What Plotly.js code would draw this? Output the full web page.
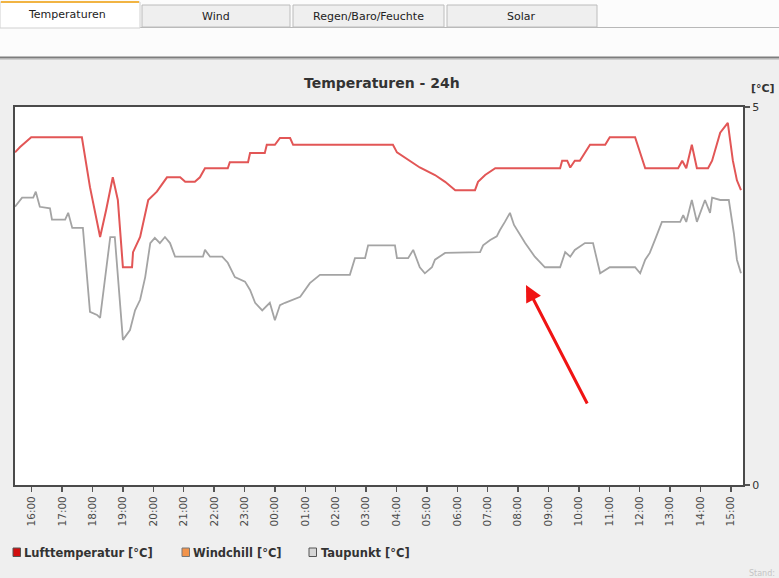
<!DOCTYPE html>
<html>
<head>
<meta charset="utf-8">
<script src="https://cdn.plot.ly/plotly-3.0.1.min.js"></script>
<style>
  html, body { margin: 0; padding: 0; background: #efefef; }
  #chart { width: 779px; height: 578px; }
</style>
</head>
<body>
<div id="chart"></div>
<script>
// ---- data ----
const tickLabels = ["16:00","17:00","18:00","19:00","20:00","21:00","22:00","23:00","00:00","01:00","02:00","03:00",
                    "04:00","05:00","06:00","07:00","08:00","09:00","10:00","11:00","12:00","13:00","14:00","15:00"];

const seriesNames = ["Lufttemperatur [°C]", "Windchill [°C]", "Taupunkt [°C]"];

const luftTimes = ["15:27","15:37","15:59","17:39","17:55","18:15","18:27","18:40","18:50","19:00","19:18","19:20",
  "19:34","19:50","20:07","20:27","20:53","21:03","21:22","21:32","21:42","22:27","22:31","23:07","23:11","23:40",
  "23:44","00:00","00:10","00:30","00:36","03:53","04:01","04:27","04:46","05:16","05:36","05:56","06:35","06:41",
  "06:55","07:15","09:23","09:27","09:37","09:43","09:52","10:02","10:12","10:22","10:52","11:01","11:51","12:11",
  "13:16","13:24","13:32","13:43","13:53","14:15","14:23","14:39","14:54","15:04","15:12","15:20"];
const luftValues = [4.40,4.47,4.60,4.60,3.94,3.28,3.64,4.07,3.77,2.88,2.88,3.08,
  3.28,3.77,3.88,4.07,4.07,4.01,4.01,4.07,4.19,4.19,4.27,4.27,4.39,4.39,
  4.50,4.50,4.59,4.59,4.50,4.50,4.40,4.29,4.20,4.10,4.01,3.90,3.90,4.01,
  4.10,4.19,4.19,4.29,4.29,4.20,4.29,4.29,4.39,4.50,4.50,4.60,4.60,4.19,
  4.19,4.29,4.19,4.50,4.19,4.19,4.29,4.66,4.79,4.29,4.03,3.90];

const windchillTimes = [];
const windchillValues = [];

const taupunktTimes = ["15:27","15:41","16:03","16:08","16:16","16:36","16:40","17:06","17:12","17:20","17:41","17:55",
  "18:09","18:15","18:35","18:44","19:00","19:14","19:24","19:34","19:44","19:54","20:03","20:13","20:23","20:33",
  "20:43","21:38","21:42","21:52","22:16","22:27","22:41","23:01","23:11","23:21","23:35","23:50","00:00","00:10",
  "00:20","00:50","01:09","01:29","02:28","02:38","02:58","03:04","03:57","04:01","04:23","04:33","04:46","04:56",
  "05:10","05:16","05:36","06:45","06:51","07:05","07:18","07:24","07:34","07:44","07:52","08:04","08:14","08:33",
  "08:53","09:23","09:33","09:43","09:52","10:12","10:28","10:42","11:01","11:51","12:01","12:11","12:20","12:30",
  "12:44","13:20","13:26","13:32","13:43","13:53","14:09","14:19","14:23","14:39","14:56","15:06","15:12","15:20"];
const taupunktValues = [3.68,3.80,3.80,3.88,3.68,3.66,3.51,3.51,3.60,3.40,3.40,2.29,
  2.25,2.21,3.28,3.28,1.92,2.05,2.31,2.45,2.75,3.20,3.27,3.20,3.28,3.20,
  3.02,3.02,3.11,3.02,3.02,2.94,2.75,2.69,2.58,2.41,2.31,2.41,2.18,2.38,
  2.41,2.49,2.67,2.78,2.78,3.00,3.00,3.17,3.17,3.00,3.00,3.11,2.88,2.80,
  2.88,2.98,3.07,3.08,3.17,3.24,3.29,3.37,3.48,3.60,3.44,3.31,3.20,3.02,
  2.88,2.88,3.08,3.02,3.11,3.20,3.20,2.80,2.88,2.88,2.80,2.98,3.07,3.24,
  3.48,3.48,3.57,3.48,3.77,3.48,3.77,3.60,3.80,3.77,3.77,3.33,2.98,2.80];

const yTicks = [0, 5];
const xRangeLabels = ["15:27", "15:24"];

// ---- helpers ----
// times at/after 15:25 belong to the first day, earlier ones to the next day
function toDate(hhmm, isEnd) {
  const day = (hhmm >= "15:25" && !isEnd) ? "2024-01-01" : "2024-01-02";
  return day + " " + hhmm;
}
const toDates = arr => arr.map(t => toDate(t, false));
const tickDates = tickLabels.map(t => toDate(t, false));

// plot area in pixels: left 15, right 743, top 107, bottom 485
const L = 15, R = 743, T = 107, B = 485;
const PX = px => (px - L) / (R - L);
const PY = py => (B - py) / (B - T);

const FONT = "DejaVu Sans, Verdana, sans-serif";

const traces = [
  { x: toDates(windchillTimes), y: windchillValues, name: seriesNames[1], mode: "lines",
    line: { color: "#f08a3c", width: 2 }, showlegend: false, hoverinfo: "skip" },
  { x: toDates(taupunktTimes), y: taupunktValues, name: seriesNames[2], mode: "lines",
    line: { color: "#a4a4a4", width: 1.8 }, showlegend: false },
  { x: toDates(luftTimes), y: luftValues, name: seriesNames[0], mode: "lines",
    line: { color: "#e25656", width: 2 }, showlegend: false }
];

const shapes = [
  // white top band
  { type: "rect", xref: "paper", yref: "paper", x0: PX(-5), x1: PX(790), y0: PY(57), y1: PY(-5),
    fillcolor: "#fcfcfc", line: { width: 0 }, layer: "below" },
  // divider
  { type: "line", xref: "paper", yref: "paper", x0: PX(0), x1: PX(779), y0: PY(57.5), y1: PY(57.5),
    line: { color: "#7d7d7d", width: 2 } },
  { type: "line", xref: "paper", yref: "paper", x0: PX(0), x1: PX(779), y0: PY(59.5), y1: PY(59.5),
    line: { color: "#cfcfcf", width: 1 } },
  // tab base line
  { type: "line", xref: "paper", yref: "paper", x0: PX(140), x1: PX(779), y0: PY(27.5), y1: PY(27.5),
    line: { color: "#b8b8b8", width: 1 } },
  // inactive tabs
  { type: "rect", xref: "paper", yref: "paper", x0: PX(142), x1: PX(290), y0: PY(27), y1: PY(5),
    fillcolor: "#efefef", line: { color: "#bcbcbc", width: 1 } },
  { type: "rect", xref: "paper", yref: "paper", x0: PX(293), x1: PX(444), y0: PY(27), y1: PY(5),
    fillcolor: "#efefef", line: { color: "#bcbcbc", width: 1 } },
  { type: "rect", xref: "paper", yref: "paper", x0: PX(447), x1: PX(597), y0: PY(27), y1: PY(5),
    fillcolor: "#efefef", line: { color: "#bcbcbc", width: 1 } },
  // active tab
  { type: "rect", xref: "paper", yref: "paper", x0: PX(0), x1: PX(140), y0: PY(28), y1: PY(2),
    fillcolor: "#ffffff", line: { color: "#d0d0d0", width: 1 } },
  { type: "line", xref: "paper", yref: "paper", x0: PX(1), x1: PX(139), y0: PY(2), y1: PY(2),
    line: { color: "#f1b443", width: 2 } },
  // legend squares
  { type: "rect", xref: "paper", yref: "paper", x0: PX(13), x1: PX(20.5), y0: PY(556.5), y1: PY(548),
    fillcolor: "#d10f0f", line: { color: "#555", width: 1 } },
  { type: "rect", xref: "paper", yref: "paper", x0: PX(182), x1: PX(189.5), y0: PY(556.5), y1: PY(548),
    fillcolor: "#f2934a", line: { color: "#777", width: 1 } },
  { type: "rect", xref: "paper", yref: "paper", x0: PX(309), x1: PX(316.5), y0: PY(556.5), y1: PY(548),
    fillcolor: "#d6d6d6", line: { color: "#555", width: 1 } }
];

const ann = (px, py, text, size, color, xanchor) => ({
  xref: "paper", yref: "paper", x: PX(px), y: PY(py), text: text, showarrow: false,
  xanchor: xanchor || "center", yanchor: "middle", font: { family: FONT, size: size, color: color }
});

const annotations = [
  ann(67, 14, "Temperaturen", 11, "#222"),
  ann(216, 17, "Wind", 11, "#222"),
  ann(368, 17, "Regen/Baro/Feuchte", 11, "#222"),
  ann(521, 17, "Solar", 11, "#222"),
  ann(382, 83, "<b>Temperaturen - 24h</b>", 14, "#333"),
  ann(763, 89, "<b>[°C]</b>", 11, "#333"),
  ann(22, 552.5, "<b>" + seriesNames[0] + "</b>", 11.5, "#333", "left"),
  ann(191, 552.5, "<b>" + seriesNames[1] + "</b>", 11.5, "#333", "left"),
  ann(319, 552.5, "<b>" + seriesNames[2] + "</b>", 11.5, "#333", "left"),
  ann(777, 573, "Stand:", 8, "#c4c4c4", "right"),
  { xref: "paper", yref: "paper", x: PX(526), y: PY(285), ax: 62, ay: 120, text: "",
    showarrow: true, arrowhead: 2, arrowsize: 1.1, arrowwidth: 3, arrowcolor: "#f01414" }
];

const layout = {
  width: 779, height: 578,
  margin: { l: L, r: 779 - R, t: T, b: 578 - B, pad: 0 },
  paper_bgcolor: "#efefef",
  plot_bgcolor: "#ffffff",
  showlegend: false,
  font: { family: FONT, color: "#333" },
  xaxis: {
    type: "date",
    range: [toDate(xRangeLabels[0], false), toDate(xRangeLabels[1], true)],
    tickmode: "array", tickvals: tickDates, ticktext: tickLabels,
    tickangle: -90, ticks: "outside", ticklen: 5, tickwidth: 1.5, tickcolor: "#555",
    tickfont: { family: FONT, size: 10.5, color: "#4a4a4a" },
    showgrid: false, zeroline: false,
    showline: true, linecolor: "#4a4a4a", linewidth: 2, mirror: true
  },
  yaxis: {
    side: "right", range: [0, 5], tickmode: "array", tickvals: yTicks, ticktext: yTicks.map(String),
    ticks: "outside", ticklen: 5, tickwidth: 1.5, tickcolor: "#555",
    tickfont: { family: FONT, size: 11, color: "#333" },
    showgrid: false, zeroline: false,
    showline: true, linecolor: "#4a4a4a", linewidth: 2, mirror: true
  },
  shapes: shapes,
  annotations: annotations
};

Plotly.newPlot("chart", traces, layout, { staticPlot: true, displayModeBar: false });
</script>
</body>
</html>
